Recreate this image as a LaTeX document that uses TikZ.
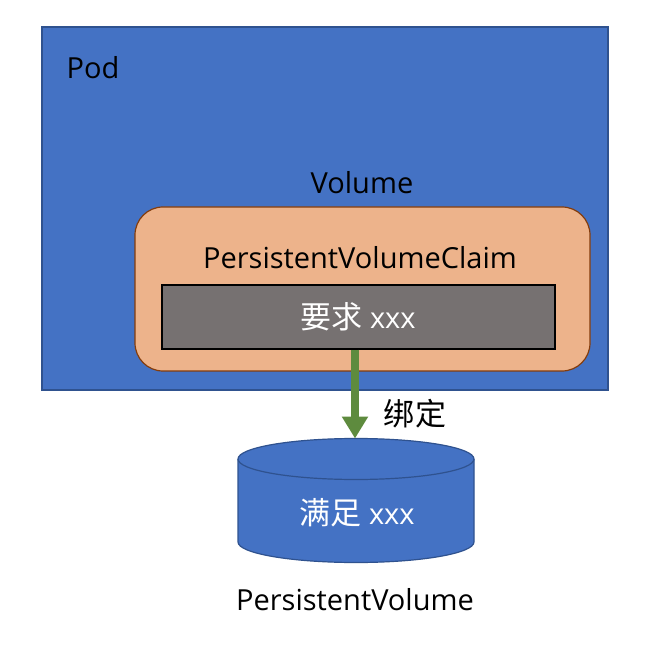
\documentclass[tikz,border=0pt]{standalone}
\usepackage{fontspec}
\setmainfont{Open Sans}
\newfontfamily\cjk{Noto Sans CJK SC}[Scale=1.07]
\usetikzlibrary{arrows.meta}
\definecolor{podblue}{HTML}{4472C4}
\definecolor{podedge}{HTML}{2F528F}
\definecolor{claimfill}{HTML}{EDB38B}
\definecolor{claimedge}{HTML}{843C0C}
\definecolor{reqgray}{HTML}{767171}
\definecolor{bindgreen}{HTML}{5E8B3E}

\begin{document}
\begin{tikzpicture}[x=1pt, y=1pt,
        label/.style={font=\fontsize{29}{34}\selectfont, inner sep=0pt},
        whitelabel/.style={label, text=white}]
            \useasboundingbox (0,0) rectangle (668,648);
            \fill[white] (0,0) rectangle (668,648);

            \node[draw=podedge, line width=1.5pt, fill=podblue, minimum width=566pt, minimum height=363pt, inner sep=0pt] (pod) at (325,439.5) {};
            \node[label] (podname) at (93,580) {Pod};
            \node[label] (volname) at (362,465) {Volume};

            \node[draw=claimedge, line width=1.2pt, fill=claimfill, rounded corners=28pt, minimum width=455pt, minimum height=164pt, inner sep=0pt] (claim) at (362.5,359) {};
            \node[label] (claimname) at (360,390) {PersistentVolumeClaim};
            \node[draw=black, line width=1.2pt, fill=reqgray, minimum width=393pt, minimum height=64pt, inner sep=0pt] (req) at (358.5,331) {};
            \node[whitelabel] (reqtext) at (358,331) {{\cjk 要求} xxx};

            \fill[podblue] (238,189) -- (238,106) arc[start angle=180, end angle=360, x radius=118, y radius=20.5] -- (474,189) arc[start angle=0, end angle=180, x radius=118, y radius=20.5] -- cycle;
            \draw[podedge, line width=1.2pt] (238,189) -- (238,106) arc[start angle=180, end angle=360, x radius=118, y radius=20.5] -- (474,189);
            \draw[podedge, line width=1.2pt] (356,189) ellipse[x radius=118, y radius=20.5];
            \coordinate (pvtop) at (355,209.5);
            \node[whitelabel] (pvtext) at (357,135) {{\cjk 满足} xxx};
            \node[label] (pvname) at (355,48) {PersistentVolume};

            \draw[bindgreen, line width=8pt, -{Triangle[width=25pt, length=22pt]}] (req.south -| pvtop) -- (pvtop);
            \node[label, font=\cjk\fontsize{29}{34}\selectfont] (bind) at (415,234) {绑定};
        \end{tikzpicture}
\end{document}
